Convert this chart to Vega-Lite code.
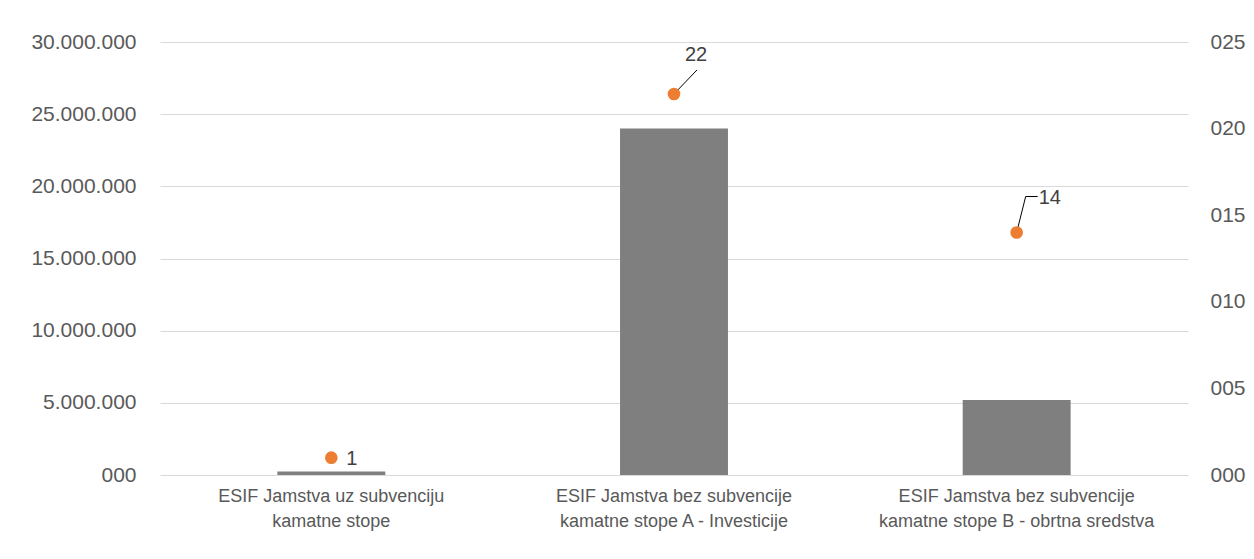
{
  "$schema": "https://vega.github.io/schema/vega-lite/v6.json",
  "width": 1028,
  "height": 433,
  "autosize": {"type": "none"},
  "padding": {"left": 160, "top": 42, "right": 66, "bottom": 84},
  "background": "#ffffff",
  "config": {
    "view": {"stroke": null},
    "font": "Liberation Sans",
    "locale": {"number": {"decimal": ",", "thousands": ".", "grouping": [3], "currency": ["", " €"]}}
  },
  "data": {
    "values": [
      {"category": "ESIF Jamstva uz subvenciju\nkamatne stope", "iznos": 250000, "broj": 1},
      {"category": "ESIF Jamstva bez subvencije\nkamatne stope A - Investicije", "iznos": 24000000, "broj": 22},
      {"category": "ESIF Jamstva bez subvencije\nkamatne stope B - obrtna sredstva", "iznos": 5200000, "broj": 14}
    ]
  },
  "encoding": {
    "x": {
      "field": "category",
      "type": "nominal",
      "sort": null,
      "scale": {"paddingInner": 0.685, "paddingOuter": 0.3425},
      "axis": {
        "title": null,
        "labelAngle": 0,
        "labelExpr": "split(datum.value, '\\n')",
        "labelFontSize": 18,
        "labelColor": "#595959",
        "labelPadding": 12,
        "labelLineHeight": 25,
        "labelLimit": 400,
        "domain": false,
        "ticks": false
      }
    }
  },
  "layer": [
    {
      "mark": {"type": "bar", "color": "#7f7f7f"},
      "encoding": {
        "y": {
          "field": "iznos",
          "type": "quantitative",
          "scale": {"domain": [0, 30000000]},
          "axis": {
            "title": null,
            "values": [0, 5000000, 10000000, 15000000, 20000000, 25000000, 30000000],
            "format": "03,d",
            "labelFontSize": 21,
            "labelColor": "#595959",
            "labelPadding": 24,
            "domain": false,
            "ticks": false,
            "grid": true,
            "gridColor": "#d9d9d9",
            "gridWidth": 1
          }
        }
      }
    },
    {
      "encoding": {
        "y": {
          "field": "broj",
          "type": "quantitative",
          "scale": {"domain": [0, 25]},
          "axis": {
            "orient": "right",
            "title": null,
            "values": [0, 5, 10, 15, 20, 25],
            "format": "03d",
            "labelFontSize": 21,
            "labelColor": "#595959",
            "labelPadding": 22,
            "domain": false,
            "ticks": false,
            "grid": false
          }
        }
      },
      "layer": [
        {
          "mark": {"type": "rule", "color": "#000000", "strokeWidth": 1, "x2Offset": 23, "y2Offset": -24},
          "transform": [{"filter": "datum.broj == 22"}],
          "encoding": {"x2": {"field": "category"}, "y2": {"field": "broj"}}
        },
        {
          "mark": {"type": "rule", "color": "#000000", "strokeWidth": 1, "x2Offset": 9, "y2Offset": -36},
          "transform": [{"filter": "datum.broj == 14"}],
          "encoding": {"x2": {"field": "category"}, "y2": {"field": "broj"}}
        },
        {
          "mark": {"type": "rule", "color": "#000000", "strokeWidth": 1, "xOffset": 9, "yOffset": -36, "x2Offset": 21, "y2Offset": -36},
          "transform": [{"filter": "datum.broj == 14"}],
          "encoding": {"x2": {"field": "category"}, "y2": {"field": "broj"}}
        },
        {
          "mark": {"type": "circle", "color": "#ed7d31", "opacity": 1, "size": 160},
          "encoding": {}
        },
        {
          "mark": {"type": "text", "align": "left", "baseline": "middle", "dx": 15, "dy": 1, "fontSize": 20, "color": "#404040"},
          "transform": [{"filter": "datum.broj == 1"}],
          "encoding": {"text": {"field": "broj", "type": "quantitative"}}
        },
        {
          "mark": {"type": "text", "align": "center", "baseline": "middle", "dx": 22, "dy": -39, "fontSize": 20, "color": "#404040"},
          "transform": [{"filter": "datum.broj == 22"}],
          "encoding": {"text": {"field": "broj", "type": "quantitative"}}
        },
        {
          "mark": {"type": "text", "align": "left", "baseline": "middle", "dx": 22, "dy": -35, "fontSize": 20, "color": "#404040"},
          "transform": [{"filter": "datum.broj == 14"}],
          "encoding": {"text": {"field": "broj", "type": "quantitative"}}
        }
      ]
    }
  ],
  "resolve": {"scale": {"y": "independent"}}
}
